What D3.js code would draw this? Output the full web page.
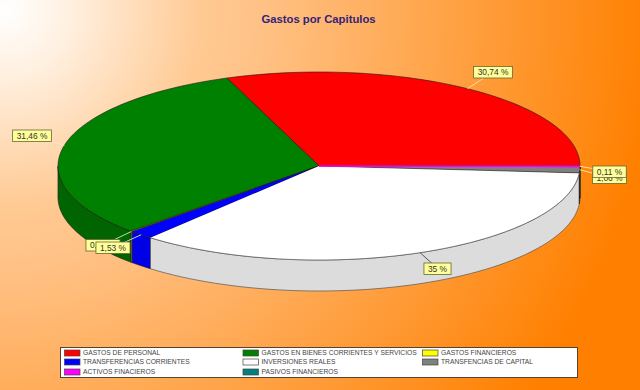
<!DOCTYPE html>
<html><head><meta charset="utf-8">
<script src="https://cdnjs.cloudflare.com/ajax/libs/d3/7.8.5/d3.min.js"></script>
<style>html,body{margin:0;padding:0;overflow:hidden}svg{display:block}text{font-family:"Liberation Sans",Arial,sans-serif}</style>
</head><body><div id="c"></div>
<script>
const categories=["GASTOS DE PERSONAL","GASTOS EN BIENES CORRIENTES Y SERVICIOS","GASTOS FINANCIEROS","TRANSFERENCIAS CORRIENTES","INVERSIONES REALES","TRANSFENCIAS DE CAPITAL","ACTIVOS FINACIEROS","PASIVOS FINANCIEROS"];
const values=[30.74,31.46,0.10,1.53,35,1.06,0.11,0];
const labels=["30,74 %","31,46 %","0,10 %","1,53 %","35 %","1,06 %","0,11 %",""];
const colors=["#ff0000","#008000","#ffff00","#0000ff","#ffffff","#808080","#ff00ff","#008080"];
const sideColors=["#a00000","#006400","#b0b000","#0000e6","#dcdcdc","#555555","#b000b0","#005a5a"];
const leaderColors=["#ffd9a0","#ffe3cc","#b8e0a0","#c0d0ff","#555555","#ffe0a0","#ffe0a0","#ffe0a0"];
const labelCenters=[[493,72],[32,135.5],[103,245],[113,247.5],[437.5,268.5],[609.5,177.5],[609.5,171.5],[609.5,171.5]];
const title="Gastos por Capitulos";

const W=640,H=390,cx=319,cy=166,rx=261,ry=94,depth=31;
const svg=d3.select("#c").append("svg").attr("width",W).attr("height",H);
const defs=svg.append("defs");
const g=defs.append("radialGradient").attr("id","bg").attr("gradientUnits","userSpaceOnUse").attr("cx",5).attr("cy",10).attr("r",650);
[[0,"#ffffff"],[0.1,"#fff0e0"],[0.3,"#ffca94"],[0.4,"#ffc184"],[1,"#ff8000"]].forEach(s=>g.append("stop").attr("offset",s[0]).attr("stop-color",s[1]));
svg.append("rect").attr("width",W).attr("height",H).attr("fill","url(#bg)");

svg.append("text").attr("x",318.5).attr("y",23).attr("text-anchor","middle").attr("font-size",11.3).attr("font-weight","bold").attr("fill","#33237a").text(title);

const pie=d3.pie().sort(null).startAngle(0).endAngle(2*Math.PI);
const arcs=pie(values);
const X=d3.scaleLinear().domain([-1,1]).range([cx-rx,cx+rx]);
const Y=d3.scaleLinear().domain([-1,1]).range([cy-ry,cy+ry]);
const px=a=>X(Math.cos(a)), py=a=>Y(-Math.sin(a));
const samples=(a0,a1)=>d3.range(0,61).map(i=>a0+(a1-a0)*i/60);
const line=d3.line();

const pieG=svg.append("g");
arcs.forEach((d,i)=>{
  if(values[i]===0)return;
  const a0=Math.max(d.startAngle,Math.PI),a1=Math.min(d.endAngle,2*Math.PI);
  if(a1<=a0)return;
  const s=samples(a0,a1);
  const pts=s.map(a=>[px(a),py(a)]).concat(s.slice().reverse().map(a=>[px(a),py(a)+depth]));
  pieG.append("path").attr("d",line(pts)+"Z").attr("fill",sideColors[i]).attr("stroke",i===4?"#555":"#222").attr("stroke-width",0.7);
});
arcs.forEach((d,i)=>{
  if(values[i]===0)return;
  const s=samples(d.startAngle,d.endAngle);
  const pts=[[cx,cy]].concat(s.map(a=>[px(a),py(a)]));
  const stroke=i===4?"none":(i===6?colors[i]:"#1a1a1a");
  pieG.append("path").attr("d",line(pts)+"Z").attr("fill",colors[i]).attr("stroke",stroke).attr("stroke-width",i===6?1:0.6);
  if(i===4) pieG.append("path").attr("d",line(s.map(a=>[px(a),py(a)]))).attr("fill","none").attr("stroke","#555").attr("stroke-width",0.7);
});

const labG=svg.append("g");
arcs.forEach((d,i)=>{
  if(values[i]===0)return;
  const m=(d.startAngle+d.endAngle)/2,c=labelCenters[i];
  labG.append("line").attr("x1",px(m)).attr("y1",py(m)).attr("x2",c[0]).attr("y2",c[1]).attr("stroke",leaderColors[i]).attr("stroke-width",1);
});
arcs.forEach((d,i)=>{
  if(values[i]===0)return;
  const c=labelCenters[i];
  const t=labG.append("text").attr("x",c[0]).attr("y",c[1]+3).attr("text-anchor","middle").attr("font-size",8.4).attr("fill","#333").text(labels[i]);
  const w=t.node().getComputedTextLength()+8;
  labG.append("rect").attr("x",c[0]-w/2).attr("y",c[1]-5.5).attr("width",w).attr("height",11.5).attr("fill","#ffff99").attr("stroke","#666633").attr("stroke-width",0.8);
  t.raise();
});

const lg=svg.append("g");
lg.append("rect").attr("x",60.5).attr("y",347.5).attr("width",517).attr("height",30).attr("fill","#fff").attr("stroke","#554433");
const colX=[64.5,243,422.5],rowY=[353,362,372];
categories.forEach((c,i)=>{
  const x=colX[i%3],y=rowY[Math.floor(i/3)];
  lg.append("rect").attr("x",x).attr("y",y-3).attr("width",15.5).attr("height",6).attr("fill",colors[i]).attr("stroke","#444").attr("stroke-width",0.7);
  lg.append("text").attr("x",x+18.5).attr("y",y+2.4).attr("font-size",6.7).attr("fill","#444").text(c);
});
</script></body></html>
